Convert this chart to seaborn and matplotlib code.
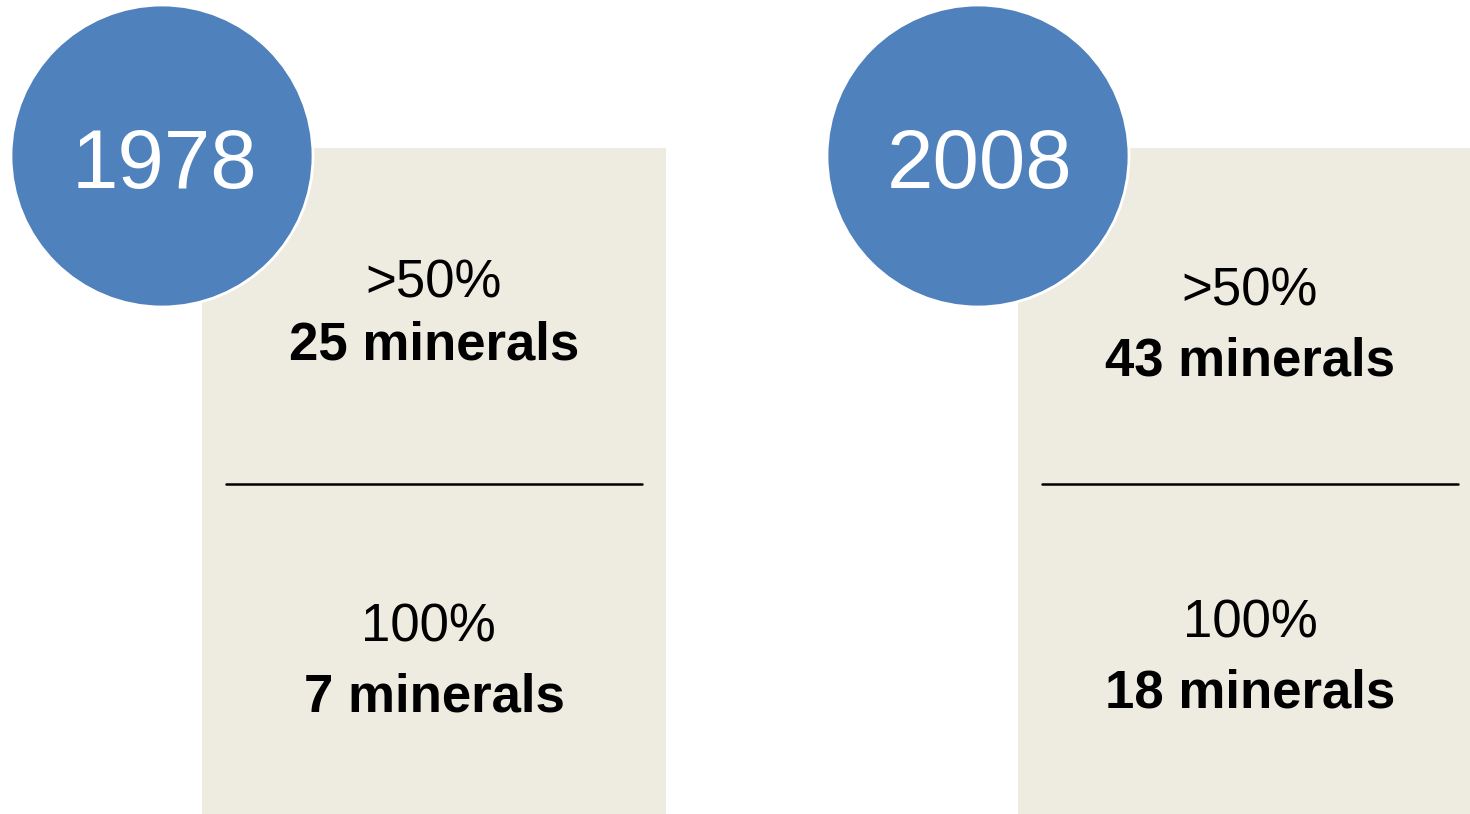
"""Share of minerals imported: 1978 vs 2008 infographic."""

import matplotlib.pyplot as plt
import matplotlib.patches as mpatches
import seaborn as sns

years = ["1978", "2008"]
upper_labels = [">50%", ">50%"]
upper_counts = [25, 43]
lower_labels = ["100%", "100%"]
lower_counts = [7, 18]

BLUE = "#4F81BD"
BOX = "#EEEBE0"

sns.set_theme(style="white")
plt.rcParams["font.family"] = ["Liberation Sans", "DejaVu Sans"]

fig = plt.figure(figsize=(14.7, 8.14), dpi=100)
ax = fig.add_axes([0, 0, 1, 1])
ax.set_xlim(0, 1470)
ax.set_ylim(814, 0)
ax.set_axis_off()

# panel layout in pixel units
panels = [
    dict(box_x=202, box_w=464, cx=162, upper_y=(297, 360), lower_y=(642, 712)),
    dict(box_x=1018, box_w=452, cx=978, upper_y=(305, 375), lower_y=(637, 708)),
]

for i, p in enumerate(panels):
    ax.add_patch(mpatches.Rectangle((p["box_x"], 148), p["box_w"], 666,
                                    facecolor=BOX, edgecolor="none", zorder=1))
    ax.plot([p["box_x"] + 24, p["box_x"] + 440], [484, 484],
            color="black", lw=1.8, zorder=2)

    ax.add_patch(mpatches.Circle((p["cx"], 156), 151, facecolor=BLUE,
                                 edgecolor="white", lw=2, zorder=3))
    ax.text(p["cx"] + 2, 188, years[i], color="white", fontsize=60,
            ha="center", va="baseline", zorder=4)

    tx = p["box_x"] + 232
    ax.text(tx, p["upper_y"][0], upper_labels[i], fontsize=38,
            ha="center", va="baseline", color="black", zorder=4)
    ax.text(tx, p["upper_y"][1], f"{upper_counts[i]} minerals", fontsize=38,
            fontweight="bold", ha="center", va="baseline", color="black", zorder=4)
    ax.text(tx - 6 if i == 0 else tx, p["lower_y"][0], lower_labels[i], fontsize=38,
            ha="center", va="baseline", color="black", zorder=4)
    ax.text(tx, p["lower_y"][1], f"{lower_counts[i]} minerals", fontsize=38,
            fontweight="bold", ha="center", va="baseline", color="black", zorder=4)

fig.savefig("out.png", dpi=100, facecolor="white")
plt.close(fig)
